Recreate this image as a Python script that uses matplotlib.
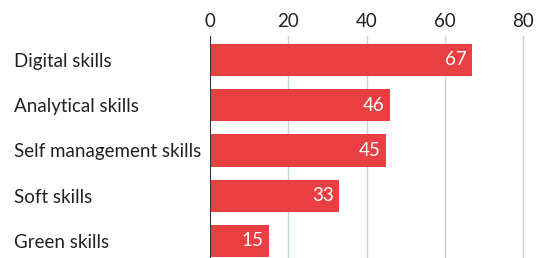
import matplotlib.pyplot as plt

categories = ["Digital skills", "Analytical skills", "Self management skills",
              "Soft skills", "Green skills"]
values = [67, 46, 45, 33, 15]
ticks = [0, 20, 40, 60, 80]

plt.rcParams["font.family"] = ["Lato", "DejaVu Sans"]
fs = 13.5

fig = plt.figure(figsize=(5.47, 2.58), dpi=100)
ax = fig.add_axes([210 / 547, 0, (523 - 210) / 547, (258 - 36) / 258])

pos = list(range(len(categories)))
ax.barh(pos, values, height=0.71, color="#E93E42", zorder=2)
ax.set_ylim(4.376, -0.53)
ax.set_xlim(0, 80)

for p, v in zip(pos, values):
    ax.text(v - 1.3, p, str(v), color="white", ha="right", va="center",
            fontsize=fs, zorder=3)

ax.set_xticks(ticks)
ax.xaxis.tick_top()
ax.tick_params(axis="x", length=0, pad=4, labelsize=fs, labelcolor="#222222")
ax.set_yticks(pos)
ax.set_yticklabels(categories)
ax.tick_params(axis="y", length=0, pad=0, labelsize=fs, labelcolor="#222222")
for lab in ax.get_yticklabels():
    lab.set_horizontalalignment("left")
    lab.set_x(-196 / (523 - 210))

for t in ticks[1:]:
    ax.axvline(t, color="#C5D4DD", linewidth=1, zorder=1, clip_on=False)
ax.axvline(0, color="#333333", linewidth=1.5, zorder=4)

for s in ax.spines.values():
    s.set_visible(False)

fig.savefig("out.png", dpi=100)
